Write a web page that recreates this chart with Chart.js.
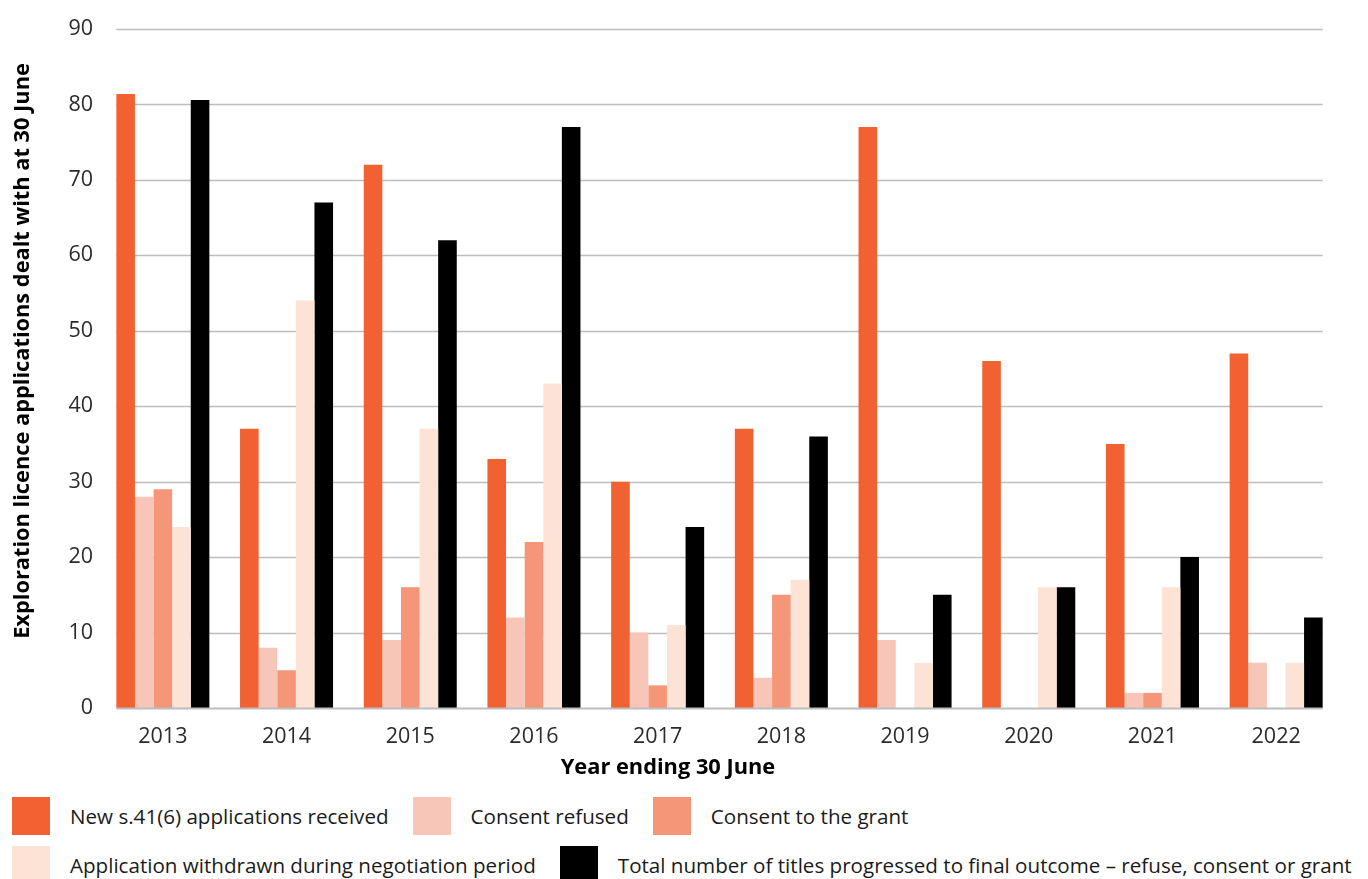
<!DOCTYPE html>
<html>
<head>
<meta charset="utf-8">
<title>Exploration licence applications</title>
<script src="https://cdn.jsdelivr.net/npm/chart.js@4.4.1/dist/chart.umd.min.js"></script>
<style>
    body { margin: 0; background: #fff; font-family: "Open Sans", sans-serif; overflow: hidden; }
    #wrap { position: relative; width: 1368px; height: 790px; }
    #legend {
        position: absolute; left: 12px; top: 797px; width: 1356px;
        display: flex; flex-wrap: wrap; column-gap: 24px; row-gap: 11px;
    }
    .legend-item { display: flex; align-items: center; white-space: nowrap; }
    .legend-box { width: 38px; height: 38px; margin-right: 20px; flex: none; }
    .legend-text { font-size: 20.6px; color: #1a1a1a; }
</style>
</head>
<body>
<div id="wrap"><canvas id="chart"></canvas></div>
<div id="legend"></div>

<script>
const years = ['2013', '2014', '2015', '2016', '2017', '2018', '2019', '2020', '2021', '2022'];

const newApplications = [81.4, 37, 72, 33, 30, 37, 77, 46, 35, 47];
const consentRefused  = [28, 8, 9, 12, 10, 4, 9, 0, 2, 6];
const consentGranted  = [29, 5, 16, 22, 3, 15, 0, 0, 2, 0];
const withdrawn       = [24, 54, 37, 43, 11, 17, 6, 16, 16, 6];
const totalProgressed = [80.6, 67, 62, 77, 24, 36, 15, 16, 20, 12];

const yTicks = [0, 10, 20, 30, 40, 50, 60, 70, 80, 90];

const CAT_PCT = 0.752;
const FONT = '"Open Sans", sans-serif';

const series = [
    { label: 'New s.41(6) applications received', data: newApplications, color: '#f16131' },
    { label: 'Consent refused', data: consentRefused, color: '#f8c6b8' },
    { label: 'Consent to the grant', data: consentGranted, color: '#f69678' },
    { label: 'Application withdrawn during negotiation period', data: withdrawn, color: '#fde2d6' },
    { label: 'Total number of titles progressed to final outcome \u2013 refuse, consent or grant', data: totalProgressed, color: '#000000' }
];

// grid lines stop at the outer edges of the first and last bar groups
const insetGrid = {
    id: 'insetGrid',
    beforeDatasetsDraw(chart) {
        const { ctx, chartArea, scales: { x, y } } = chart;
        const inset = (x.width / years.length) * (1 - CAT_PCT) / 2;
        ctx.save();
        ctx.strokeStyle = '#bdbdbd';
        ctx.lineWidth = 1.6;
        y.ticks.forEach(t => {
            if (t.value === 0) return;
            const py = Math.round(y.getPixelForValue(t.value)) + 0.5;
            ctx.beginPath();
            ctx.moveTo(chartArea.left + inset, py);
            ctx.lineTo(chartArea.right - inset, py);
            ctx.stroke();
        });
        ctx.restore();
    },
    afterDatasetsDraw(chart) {
        const { ctx, chartArea, scales: { x, y } } = chart;
        const inset = (x.width / years.length) * (1 - CAT_PCT) / 2;
        const py = Math.round(y.getPixelForValue(0)) + 0.5;
        ctx.save();
        ctx.strokeStyle = '#bdbdbd';
        ctx.lineWidth = 1.8;
        ctx.beginPath();
        ctx.moveTo(chartArea.left + inset, py);
        ctx.lineTo(chartArea.right - inset, py);
        ctx.stroke();
        ctx.restore();
    }
};

// axis titles drawn by hand so they sit where the layout needs them
const axisTitles = {
    id: 'axisTitles',
    afterDraw(chart) {
        const ctx = chart.ctx;
        ctx.save();
        ctx.fillStyle = '#000';
        ctx.font = `bold 21.8px ${FONT}`;
        ctx.textAlign = 'center';
        ctx.textBaseline = 'middle';
        ctx.fillText('Year ending 30 June', 668, 768);
        ctx.translate(23, 351);
        ctx.rotate(-Math.PI / 2);
        ctx.fillText('Exploration licence applications dealt with at 30 June', 0, 0);
        ctx.restore();
    }
};

new Chart(document.getElementById('chart'), {
    type: 'bar',
    data: {
        labels: years,
        datasets: series.map(s => ({
            label: s.label,
            data: s.data,
            backgroundColor: s.color,
            borderWidth: 0,
            barPercentage: 1,
            categoryPercentage: CAT_PCT
        }))
    },
    options: {
        responsive: true,
        maintainAspectRatio: false,
        animation: false,
        layout: { padding: { top: 29, right: 30, bottom: 0, left: 0 } },
        plugins: { legend: { display: false }, tooltip: { enabled: false } },
        scales: {
            x: {
                offset: true,
                grid: { display: false, drawTicks: false },
                border: { display: false },
                ticks: { color: '#2b2b2b', font: { family: FONT, size: 21.5 }, padding: 16, maxRotation: 0 },
                afterFit: scale => { scale.height = 82; }
            },
            y: {
                min: 0,
                max: 90,
                afterBuildTicks: scale => { scale.ticks = yTicks.map(v => ({ value: v })); },
                grid: { display: false, drawTicks: false },
                border: { display: false },
                ticks: { color: '#2b2b2b', font: { family: FONT, size: 21.5 }, padding: 8 },
                afterFit: scale => { scale.width = 101; }
            }
        }
    },
    plugins: [insetGrid, axisTitles]
});

document.getElementById('legend').innerHTML = series.map(s => `
    <div class="legend-item">
        <span class="legend-box" style="background:${s.color}"></span>
        <span class="legend-text">${s.label}</span>
    </div>
`).join('');
</script>
</body>
</html>
